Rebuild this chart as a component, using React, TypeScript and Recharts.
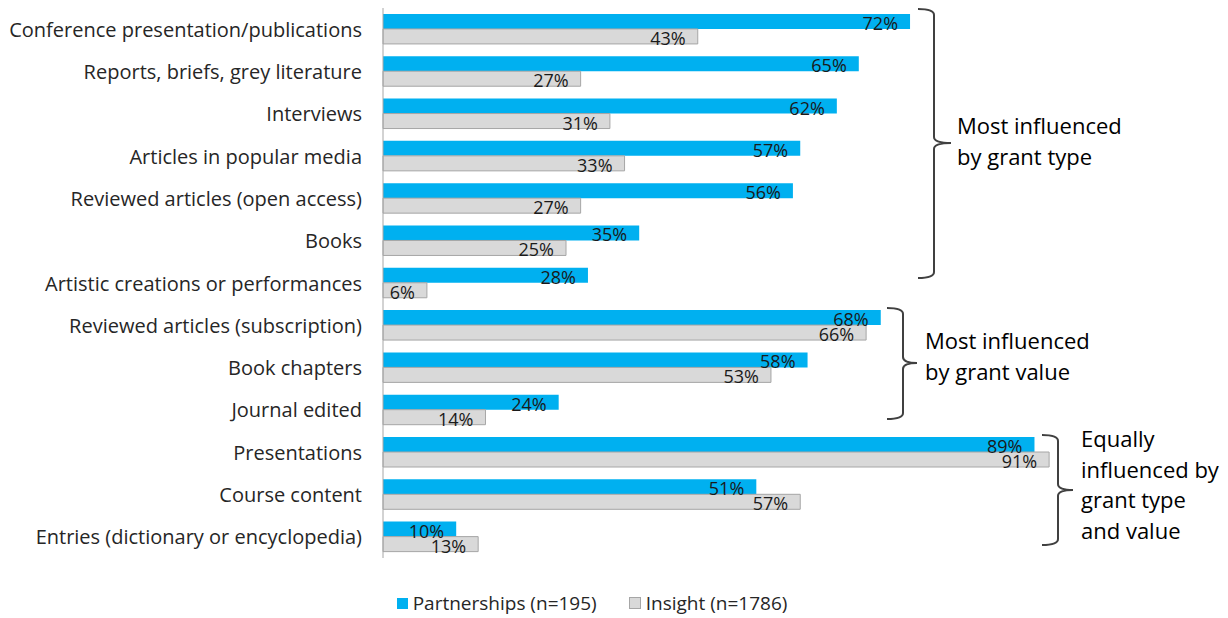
import React from "react";
import { BarChart, Bar, XAxis, YAxis, LabelList, Legend } from "recharts";

// Research output types
const categories = [
  "Conference presentation/publications",
  "Reports, briefs, grey literature",
  "Interviews",
  "Articles in popular media",
  "Reviewed articles (open access)",
  "Books",
  "Artistic creations or performances",
  "Reviewed articles (subscription)",
  "Book chapters",
  "Journal edited",
  "Presentations",
  "Course content",
  "Entries (dictionary or encyclopedia)",
];

// Share of respondents (%)
const partnerships = [72, 65, 62, 57, 56, 35, 28, 68, 58, 24, 89, 51, 10];
const insight = [43, 27, 31, 33, 27, 25, 6, 66, 53, 14, 91, 57, 13];

const seriesNames = ["Partnerships (n=195)", "Insight (n=1786)"];

const data = categories.map((name, i) => ({
  name,
  partnerships: partnerships[i],
  insight: insight[i],
}));

const FONT = "'Open Sans', Lato, sans-serif";
const BLUE = "#00b0f0";
const GREY = "#d9d9d9";
const GREY_EDGE = "#a6a6a6";
const TEXT = "#262626";

const W = 1220;
const H = 610;

const CategoryTick = (props: any) => {
  const { x, y, payload } = props;
  return (
    <text
      x={x}
      y={y}
      textAnchor="end"
      dominantBaseline="central"
      fontFamily={FONT}
      fontSize={20}
      fill={TEXT}
    >
      {payload.value}
    </text>
  );
};

const ValueLabel = (props: any) => {
  const { x, y, width, height, value } = props;
  return (
    <text
      x={x + width - 12}
      y={y + height / 2 + 1.5}
      textAnchor="end"
      dominantBaseline="central"
      fontFamily={FONT}
      fontSize={18}
      fill="#1a1a1a"
    >
      {value}%
    </text>
  );
};

const LegendContent = () => (
  <div
    style={{
      display: "flex",
      justifyContent: "center",
      alignItems: "center",
      fontFamily: FONT,
      fontSize: 19,
      color: TEXT,
      paddingRight: 52,
    }}
  >
    <span
      style={{
        display: "inline-block",
        width: 11,
        height: 11,
        background: BLUE,
        marginRight: 5,
      }}
    />
    <span style={{ marginRight: 32 }}>{seriesNames[0]}</span>
    <span
      style={{
        display: "inline-block",
        width: 10,
        height: 10,
        background: GREY,
        border: `1px solid ${GREY_EDGE}`,
        marginRight: 5,
      }}
    />
    <span>{seriesNames[1]}</span>
  </div>
);

// Bracket opening to the left with a tip on the right
const bracketPath = (
  left: number,
  vx: number,
  top: number,
  tipY: number,
  bottom: number,
  tipX: number
) => {
  const r = 6;
  return [
    `M ${left} ${top}`,
    `Q ${vx} ${top} ${vx} ${top + r}`,
    `L ${vx} ${tipY - r}`,
    `Q ${vx} ${tipY} ${tipX} ${tipY}`,
    `Q ${vx} ${tipY} ${vx} ${tipY + r}`,
    `L ${vx} ${bottom - r}`,
    `Q ${vx} ${bottom} ${left} ${bottom}`,
  ].join(" ");
};

const groups = [
  {
    path: bracketPath(910, 926, 1, 135, 270, 943),
    x: 949,
    lines: ["Most influenced", "by grant type"],
    y0: 126,
  },
  {
    path: bracketPath(879, 895, 300, 355, 411, 909),
    x: 917,
    lines: ["Most influenced", "by grant value"],
    y0: 341,
  },
  {
    path: bracketPath(1034, 1050, 427, 482, 537, 1065),
    x: 1073,
    lines: ["Equally", "influenced by", "grant type", "and value"],
    y0: 439,
  },
];

export default function App() {
  return (
    <div style={{ position: "relative", width: W, height: H }}>
      <BarChart
        width={W}
        height={H}
        data={data}
        layout="vertical"
        margin={{ top: 0, right: 113, bottom: 60, left: 0 }}
        barCategoryGap="14%"
        barGap={0}
      >
        <XAxis type="number" domain={[0, 100]} hide />
        <YAxis
          type="category"
          dataKey="name"
          width={375}
          tickLine={false}
          tickSize={0}
          tickMargin={21}
          axisLine={{ stroke: GREY_EDGE, strokeWidth: 1 }}
          tick={<CategoryTick />}
          interval={0}
        />
        <Legend
          verticalAlign="middle"
          align="center"
          content={<LegendContent />}
          wrapperStyle={{ top: 582, left: 0, width: W }}
        />
        <Bar
          dataKey="partnerships"
          name={seriesNames[0]}
          fill={BLUE}
          isAnimationActive={false}
        >
          <LabelList dataKey="partnerships" content={<ValueLabel />} />
        </Bar>
        <Bar
          dataKey="insight"
          name={seriesNames[1]}
          fill={GREY}
          stroke={GREY_EDGE}
          strokeWidth={1}
          isAnimationActive={false}
        >
          <LabelList dataKey="insight" content={<ValueLabel />} />
        </Bar>
      </BarChart>
      <svg
        width={W}
        height={H}
        style={{ position: "absolute", left: 0, top: 0, pointerEvents: "none" }}
      >
        {groups.map((g, i) => (
          <g key={i}>
            <path d={g.path} fill="none" stroke="#404040" strokeWidth={2} />
            {g.lines.map((line, j) => (
              <text
                key={j}
                x={g.x}
                y={g.y0 + j * 30.7}
                fontFamily={FONT}
                fontSize={22}
                fill="#000"
              >
                {line}
              </text>
            ))}
          </g>
        ))}
      </svg>
    </div>
  );
}
